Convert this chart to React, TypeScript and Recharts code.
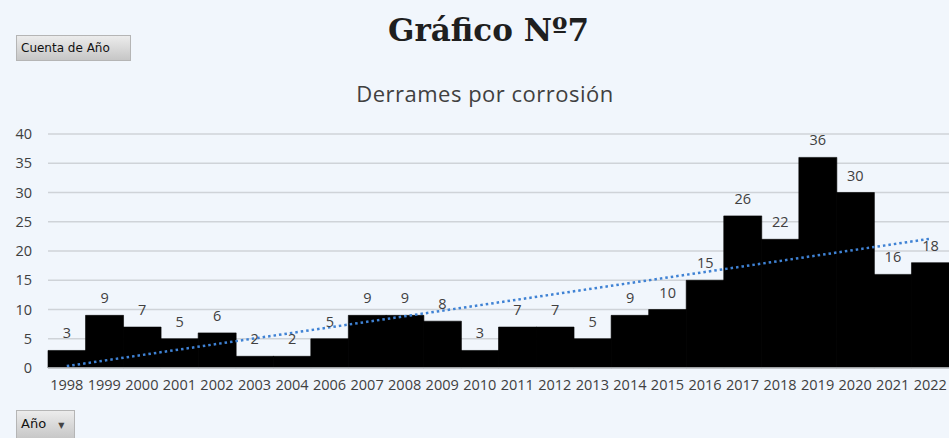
import React from "react";
import {
  ComposedChart,
  Bar,
  Line,
  XAxis,
  YAxis,
  CartesianGrid,
  LabelList,
} from "recharts";

const years = [
  "1998", "1999", "2000", "2001", "2002", "2003", "2004", "2006", "2007", "2008",
  "2009", "2010", "2011", "2012", "2013", "2014", "2015", "2016", "2017", "2018",
  "2019", "2020", "2021", "2022",
];
const counts = [3, 9, 7, 5, 6, 2, 2, 5, 9, 9, 8, 3, 7, 7, 5, 9, 10, 15, 26, 22, 36, 30, 16, 18];
const yTicks = [0, 5, 10, 15, 20, 25, 30, 35, 40];

// Linear trend line (least squares over category index), as in the original spreadsheet chart
const n = counts.length;
const xs = counts.map((_, i) => i + 1);
const mx = xs.reduce((a, b) => a + b, 0) / n;
const my = counts.reduce((a, b) => a + b, 0) / n;
const sxy = xs.reduce((acc, x, i) => acc + (x - mx) * (counts[i] - my), 0);
const sxx = xs.reduce((acc, x) => acc + (x - mx) * (x - mx), 0);
const slope = sxy / sxx;
const intercept = my - slope * mx;

const data = years.map((y, i) => ({
  year: y,
  value: counts[i],
  trend: intercept + slope * (i + 1),
}));

const BG = "#f1f6fc";
const UI_FONT = "'Open Sans', 'Noto Sans', sans-serif";

export default function App() {
  return (
    <div
      style={{
        position: "absolute",
        left: 0,
        top: 0,
        width: 949,
        height: 438,
        background: BG,
        overflow: "hidden",
      }}
    >
      <div
        style={{
          position: "absolute",
          left: 0,
          width: 977,
          top: 10,
          textAlign: "center",
          fontFamily: "'DejaVu Serif', serif",
          fontWeight: "bold",
          fontSize: 31,
          color: "#1f1f1f",
          lineHeight: "40px",
        }}
      >
        Gráfico Nº7
      </div>
      <div
        style={{
          position: "absolute",
          left: 16,
          top: 35,
          width: 109,
          height: 24,
          background: "linear-gradient(#ececec, #c6c6c6)",
          border: "1px solid #b5b5b5",
          fontFamily: "'DejaVu Sans', sans-serif",
          fontSize: 12,
          lineHeight: "24px",
          color: "#111",
          paddingLeft: 4,
          boxSizing: "content-box",
        }}
      >
        Cuenta de Año
      </div>
      <div
        style={{
          position: "absolute",
          left: 0,
          width: 970,
          top: 78,
          textAlign: "center",
          fontFamily: UI_FONT,
          fontSize: 22,
          letterSpacing: 0.5,
          color: "#404040",
          lineHeight: "30px",
        }}
      >
        Derrames por corrosión
      </div>
      <div style={{ position: "absolute", left: 0, top: 0 }}>
        <ComposedChart
          width={949}
          height={438}
          data={data}
          margin={{ top: 134, right: 0, bottom: 40, left: 0 }}
          barCategoryGap={0}
          barGap={0}
        >
          <CartesianGrid
            vertical={false}
            stroke="#cfd3d8"
            strokeWidth={1.5}
          />
          <XAxis
            dataKey="year"
            height={30}
            interval={0}
            tickLine={false}
            tickSize={0}
            tickMargin={12}
            axisLine={{ stroke: "#d4d8dd", strokeWidth: 1.5 }}
            tick={{ fill: "#404040", fontSize: 14.5, fontFamily: UI_FONT }}
          />
          <YAxis
            width={48}
            domain={[0, 40]}
            ticks={yTicks}
            tickLine={false}
            axisLine={false}
            tickSize={0}
            tickMargin={16}
            tick={{ fill: "#404040", fontSize: 14.5, fontFamily: UI_FONT }}
          />
          <Bar
            dataKey="value"
            fill="#000000"
            stroke="#000000"
            strokeWidth={0.6}
            isAnimationActive={false}
          >
            <LabelList
              dataKey="value"
              position="top"
              offset={12}
              fill="#404040"
              fontSize={14.5}
              fontFamily={UI_FONT}
            />
          </Bar>
          <Line
            dataKey="trend"
            type="linear"
            stroke="#3f82d4"
            strokeWidth={2.5}
            strokeDasharray="2.5 3"
            dot={false}
            activeDot={false}
            isAnimationActive={false}
          />
        </ComposedChart>
      </div>
      <div
        style={{
          position: "absolute",
          left: 16,
          top: 410,
          width: 53,
          height: 28,
          background: "linear-gradient(#ececec, #c6c6c6)",
          border: "1px solid #b5b5b5",
          borderBottom: "none",
          fontFamily: "'DejaVu Sans', sans-serif",
          fontSize: 13,
          lineHeight: "26px",
          color: "#111",
          paddingLeft: 4,
          boxSizing: "content-box",
        }}
      >
        Año <span style={{ fontSize: 8, marginLeft: 8, color: "#444" }}>▼</span>
      </div>
    </div>
  );
}
